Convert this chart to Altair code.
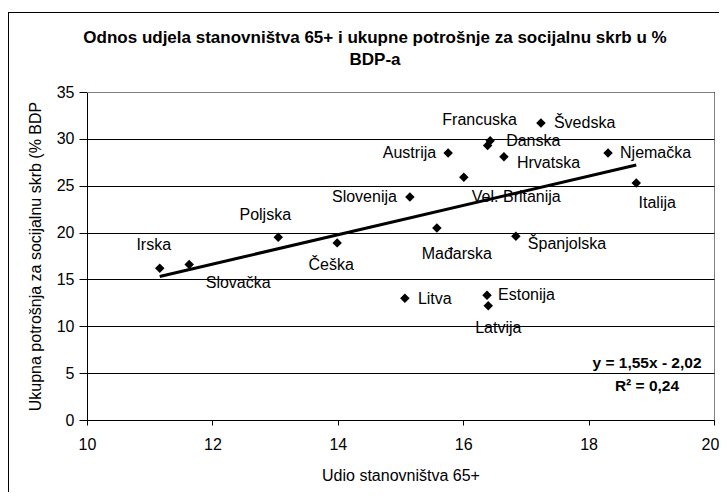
import altair as alt
import pandas as pd

# ---------------- data ----------------
countries = ["Irska", "Slovačka", "Poljska", "Češka", "Slovenija", "Litva",
             "Mađarska", "Austrija", "Vel. Britanija", "Danska", "Francuska",
             "Estonija", "Latvija", "Hrvatska", "Španjolska", "Švedska",
             "Njemačka", "Italija"]
share_65 = [11.16, 11.63, 13.05, 13.99, 15.15, 15.07,
            15.58, 15.76, 16.01, 16.43, 16.39,
            16.38, 16.40, 16.65, 16.84, 17.24,
            18.31, 18.76]
spending = [16.2, 16.6, 19.5, 18.9, 23.8, 13.0,
            20.5, 28.5, 25.9, 29.8, 29.3,
            13.3, 12.2, 28.1, 19.6, 31.7,
            28.5, 25.3]

title_lines = ["Odnos udjela stanovništva 65+ i ukupne potrošnje za socijalnu skrb u %", "BDP-a"]
x_title = "Udio stanovništva 65+"
y_title = "Ukupna potrošnja za socijalnu skrb (% BDP"
x_ticks = [10, 12, 14, 16, 18, 20]
y_ticks = [0, 5, 10, 15, 20, 25, 30, 35]
fit_text = ["y = 1,55x - 2,02", "R² = 0,24"]

# label placement (pixel offsets from each point)
label_align = ["center", "center", "center", "center", "right", "left",
               "center", "right", "left", "left", "center",
               "left", "center", "left", "left", "left",
               "left", "center"]
label_dx = [-6, 49, -13, -6, -13, 13,
            20, -12, 8, 16, -8,
            11, 10, 13, 12, 13,
            12, 21]
label_dy = [-23, 19, -22, 22, 0, 1,
            26, 0, 20, 0, -25,
            0, 22, 6, 8, 0,
            0, 20]

W, H = 627, 328
FONT = "Liberation Sans"

df = pd.DataFrame({"country": countries, "x": share_65, "y": spending})
one = pd.DataFrame({"k": [0]})

xs = alt.Scale(domain=[10, 20], nice=False, zero=False)
ys = alt.Scale(domain=[0, 35], nice=False, zero=False)

X = alt.X("x:Q", scale=xs, axis=alt.Axis(
    values=x_ticks, title=x_title, grid=False, tickSize=5, tickColor="black",
    domainColor="black", labelFont=FONT, labelFontSize=16, labelColor="black",
    labelPadding=11, labelFlush=False, labelOverlap=False,
    labelOffset={"condition": {"test": "datum.value == 20", "value": -4}, "value": 0},
    titleFont=FONT, titleFontSize=16, titleFontWeight="normal", titleColor="black",
    titlePadding=15))
Y = alt.Y("y:Q", scale=ys, axis=alt.Axis(
    values=y_ticks, title=y_title, grid=True, gridColor="black", gridWidth=1,
    tickSize=8, tickColor="black", domainColor="black",
    labelFont=FONT, labelFontSize=16, labelColor="black", labelPadding=5,
    labelFlush=False, labelOverlap=False,
    titleFont=FONT, titleFontSize=16, titleFontWeight="normal", titleColor="black",
    titleX=-51.5, titleY=H / 2, titleBaseline="middle", titleAngle=270))

points = alt.Chart(df).mark_point(shape="diamond", filled=True, size=90,
                                  color="black", opacity=1).encode(x=X, y=Y)

fit = alt.Chart(df).transform_regression("x", "y").mark_line(
    color="black", strokeWidth=3).encode(x=X, y=Y)

labels = []
for c, al, ddx, ddy in zip(countries, label_align, label_dx, label_dy):
    labels.append(
        alt.Chart(df).transform_filter(alt.datum.country == c).mark_text(
            align=al, baseline="middle", font=FONT, fontSize=16, color="black",
            dx=ddx, dy=ddy
        ).encode(x=X, y=Y, text="country:N")
    )

top_border = alt.Chart(one).mark_rule(color="#808080", strokeWidth=1).encode(
    x=alt.value(0), x2=alt.value(W), y=alt.value(0.5))

frame_top = alt.Chart(one).mark_rule(color="black", strokeWidth=1).encode(
    x=alt.value(-79), x2=alt.value(W + 5), y=alt.value(-79.5))
frame_left = alt.Chart(one).mark_rule(color="black", strokeWidth=1).encode(
    x=alt.value(-78.5), y=alt.value(-80), y2=alt.value(H + 72))

title1 = alt.Chart(one).mark_text(
    font=FONT, fontSize=17, fontWeight="bold", color="black",
    align="center", baseline="alphabetic", text=title_lines[0]
).encode(x=alt.value(288), y=alt.value(-49))
title2 = alt.Chart(one).mark_text(
    font=FONT, fontSize=17, fontWeight="bold", color="black",
    align="center", baseline="alphabetic", text=title_lines[1]
).encode(x=alt.value(288), y=alt.value(-27))

eq1 = alt.Chart(one).mark_text(
    font=FONT, fontSize=15.5, fontWeight="bold", color="black",
    align="center", baseline="alphabetic", text=fit_text[0]
).encode(x=alt.value(560), y=alt.value(276))
eq2 = alt.Chart(one).mark_text(
    font=FONT, fontSize=15.5, fontWeight="bold", color="black",
    align="center", baseline="alphabetic", text=fit_text[1]
).encode(x=alt.value(560), y=alt.value(299))

chart = alt.layer(
    points, fit, *labels, top_border, frame_top, frame_left,
    title1, title2, eq1, eq2
).properties(
    width=W, height=H,
    autosize=alt.AutoSizeParams(type="none"),
    padding={"left": 79, "top": 84, "right": 5, "bottom": 72},
    background="white",
).configure_view(stroke="#808080", strokeWidth=1)

chart.save("out.html", embed_options={"renderer": "svg", "actions": False})
